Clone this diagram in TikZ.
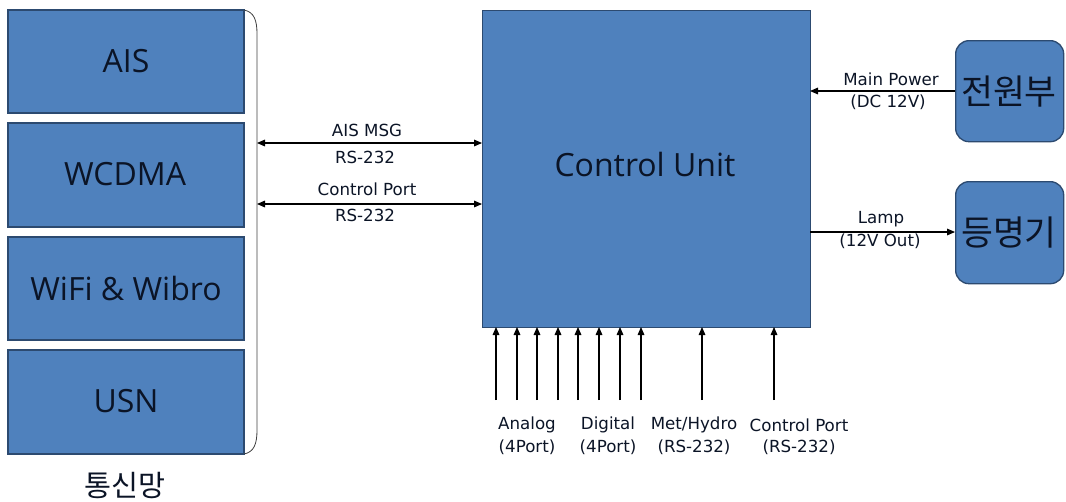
\documentclass[tikz,border=0pt]{standalone}
\usepackage{fontspec}
\setmainfont{Open Sans}
\newfontfamily\lblfont{DejaVu Sans}
\newfontfamily\krfont{Noto Sans CJK KR}
\usetikzlibrary{arrows.meta}
\definecolor{boxfill}{HTML}{4F81BD}
\definecolor{boxline}{HTML}{2C4A70}
\definecolor{txt}{HTML}{0B1426}
\tikzset{
  blk/.style={draw=boxline, line width=1pt, fill=boxfill, inner sep=0pt},
  rblk/.style={blk, rounded corners=10pt},
  conn/.style={line width=0.8pt, -{Triangle[length=6pt,width=5pt]}},
  bconn/.style={line width=0.8pt, {Triangle[length=6pt,width=5pt]}-{Triangle[length=6pt,width=5pt]}},
  lbl/.style={font=\lblfont\fontsize{12.5pt}{14pt}\selectfont, inner sep=0pt, text=txt},
  big/.style={font=\fontsize{24pt}{26pt}\selectfont, text=txt},
  kbig/.style={font=\krfont\fontsize{26pt}{28pt}\selectfont, text=txt}
}
\begin{document}
\begin{tikzpicture}[x=0.75pt,y=-0.75pt]
\useasboundingbox (0,0) rectangle (1066,501);
% left boxes
\draw[blk] (8,10) rectangle (244,113);
\node[big] (ais) at (126,61) {AIS};
\draw[blk] (8,123) rectangle (244,227);
\node[big] (wcdma) at (125,174) {WCDMA};
\draw[blk] (8,237) rectangle (244,340);
\node[big] (wifi) at (126,288) {WiFi \& Wibro};
\draw[blk] (8,350) rectangle (244,454);
\node[big] (usn) at (126,401) {USN};
\node[font=\krfont\fontsize{22pt}{24pt}\selectfont, text=txt] (net) at (125,485) {통신망};
% brace
\draw[line width=0.6pt, black!75] (244,10) .. controls (254,12) and (257,20) .. (257,34)
  -- (257,430) .. controls (257,444) and (254,452) .. (244,454);
\coordinate (bl1) at (257,143);
\coordinate (bl2) at (257,204);
% control unit
\node[blk, minimum width=328*0.75pt, minimum height=317*0.75pt, anchor=north west] (cu) at (482,10) {};
\node[big] (cut) at (645,164) {Control Unit};
% left arrows
\coordinate (cr1) at (482,143);
\coordinate (cr2) at (482,204);
\draw[bconn] (bl1) -- (cr1);
\draw[bconn] (bl2) -- (cr2);
\node[lbl] (l1) at (367,130) {AIS MSG};
\node[lbl] (l2) at (365,157) {RS-232};
\node[lbl] (l3) at (367,189) {Control Port};
\node[lbl] (l4) at (365,215) {RS-232};
% right boxes
\node[rblk, minimum width=108*0.75pt, minimum height=101*0.75pt, anchor=north west] (pw) at (955,40) {};
\node[kbig] (pwt) at (1009,92) {전원부};
\node[rblk, minimum width=108*0.75pt, minimum height=102*0.75pt, anchor=north west] (lamp) at (955,181) {};
\node[kbig] (lampt) at (1009,233) {등명기};
\coordinate (cp) at (810,91);
\coordinate (cl) at (810,232);
\draw[conn] (pw.west |- cp) -- (cp);
\draw[conn] (cl) -- (lamp.west |- cl);
\node[lbl] (m1) at (891,79) {Main Power};
\node[lbl] (m2) at (888,102) {(DC 12V)};
\node[lbl] (m3) at (881,219) {Lamp};
\node[lbl] (m4) at (880,241) {(12V Out)};
% bottom arrows
\foreach \x [count=\i] in {496,517,537,558,578,599,620,641,702,774} {
  \coordinate (b\i) at (\x,400);
  \draw[conn] (b\i) -- (\x,327);
}
\node[lbl] (a1) at (527,425) {Analog};
\node[lbl] (a2) at (527,447) {(4Port)};
\node[lbl] (d1) at (608,425) {Digital};
\node[lbl] (d2) at (608,447) {(4Port)};
\node[lbl] (h1) at (694,425) {Met/Hydro};
\node[lbl] (h2) at (694,447) {(RS-232)};
\node[lbl] (c1) at (799,425) {Control Port};
\node[lbl] (c2) at (799,447) {(RS-232)};
\end{tikzpicture}
\end{document}
